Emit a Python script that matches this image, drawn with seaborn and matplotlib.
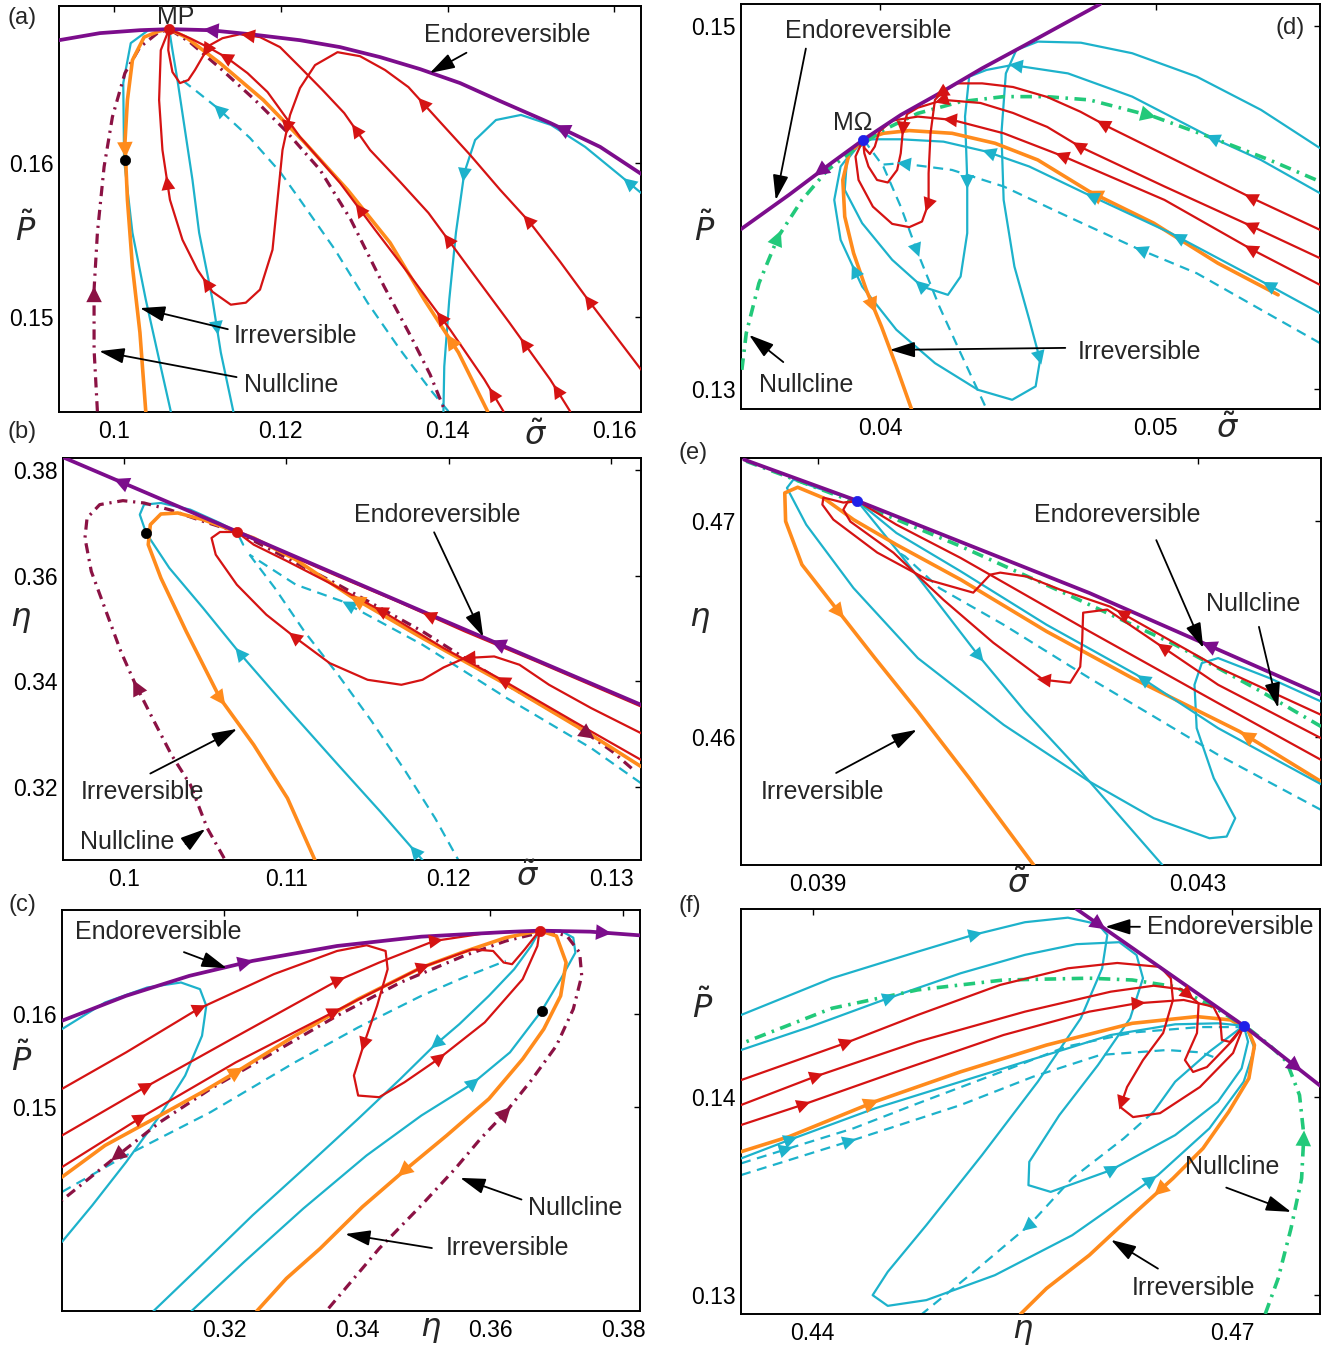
import numpy as np
import matplotlib
matplotlib.use("Agg")
import matplotlib.pyplot as plt
import seaborn as sns

PURPLE = "#7c0d8c"
RED = "#d51313"
CYAN = "#1db2cb"
ORANGE = "#ff8b1c"
MAROON = "#8b1244"
GREEN = "#22c97a"
BLUE = "#2020e8"

# ---------------- (a)  P vs sigma ----------------
a_endo_x = [0.1632, 0.1583, 0.1523, 0.1463, 0.1415, 0.1367, 0.1319, 0.1271, 0.1223, 0.1163, 0.1115, 0.1067, 0.1031, 0.0983, 0.0934]
a_endo_y = [0.15929, 0.16104, 0.16260, 0.16402, 0.16519, 0.16610, 0.16688, 0.16753, 0.16798, 0.16837, 0.16863, 0.16870, 0.16863, 0.16844, 0.16798]
a_null_x = [0.0980, 0.0976, 0.0976, 0.0980, 0.0988, 0.0998, 0.1013, 0.1031, 0.1052, 0.1066, 0.1091, 0.1127, 0.1169, 0.1205, 0.1247, 0.1284, 0.1324, 0.1356, 0.1379, 0.1397]
a_null_y = [0.14384, 0.14786, 0.15176, 0.15546, 0.15974, 0.16299, 0.16584, 0.16753, 0.16844, 0.16870, 0.16785, 0.16617, 0.16409, 0.16214, 0.15955, 0.15630, 0.15195, 0.14871, 0.14624, 0.14384]
a_irr_x = [0.1448, 0.1413, 0.1372, 0.1331, 0.1280, 0.1229, 0.1179, 0.1127, 0.1086, 0.1066, 0.1054, 0.1036, 0.1022, 0.1016, 0.1013, 0.1016, 0.1022, 0.1031, 0.1038]
a_irr_y = [0.14384, 0.14767, 0.15111, 0.15481, 0.15825, 0.16130, 0.16409, 0.16649, 0.16818, 0.16870, 0.16857, 0.16818, 0.16668, 0.16409, 0.16130, 0.15760, 0.15325, 0.14897, 0.14384]
a_cy1_x = [0.1066, 0.1041, 0.1020, 0.1011, 0.1012, 0.1022, 0.1038, 0.1054, 0.1068]
a_cy1_y = [0.16870, 0.16863, 0.16779, 0.16519, 0.16019, 0.15546, 0.15111, 0.14721, 0.14384]
a_cy2_x = [0.1066, 0.1070, 0.1076, 0.1085, 0.1094, 0.1102, 0.1118, 0.1128, 0.1143]
a_cy2_y = [0.16870, 0.16733, 0.16539, 0.16214, 0.15890, 0.15546, 0.15111, 0.14767, 0.14384]
a_cy3_x = [0.1401, 0.1379, 0.1343, 0.1304, 0.1265, 0.1223, 0.1199, 0.1163, 0.1124, 0.1100, 0.1077]
a_cy3_y = [0.14384, 0.14527, 0.14786, 0.15091, 0.15435, 0.15760, 0.15942, 0.16162, 0.16357, 0.16461, 0.16558]
a_cy4_x = [0.1632, 0.1606, 0.1565, 0.1524, 0.1488, 0.1458, 0.1433, 0.1420, 0.1410, 0.1402, 0.1396, 0.1395]
a_cy4_y = [0.15805, 0.15922, 0.16104, 0.16247, 0.16312, 0.16279, 0.16149, 0.15935, 0.15546, 0.15111, 0.14676, 0.14384]
a_red1_x = [0.1467, 0.1444, 0.1403, 0.1356, 0.1313, 0.1271, 0.1223, 0.1184, 0.1160, 0.1136, 0.1115, 0.1091, 0.1066]
a_red1_y = [0.14384, 0.14592, 0.14916, 0.15260, 0.15565, 0.15870, 0.16169, 0.16461, 0.16584, 0.16681, 0.16746, 0.16811, 0.16870]
a_red2_x = [0.1547, 0.1523, 0.1474, 0.1427, 0.1377, 0.1343, 0.1307, 0.1276, 0.1250, 0.1223, 0.1199, 0.1175, 0.1151, 0.1130, 0.1115, 0.1106, 0.1097, 0.1089, 0.1079, 0.1070, 0.1065, 0.1066]
a_red2_y = [0.14384, 0.14592, 0.14962, 0.15306, 0.15675, 0.15877, 0.16084, 0.16324, 0.16474, 0.16623, 0.16753, 0.16818, 0.16837, 0.16811, 0.16766, 0.16688, 0.16604, 0.16539, 0.16519, 0.16591, 0.16733, 0.16870]
a_red3_x = [0.1632, 0.1571, 0.1535, 0.1498, 0.1463, 0.1427, 0.1391, 0.1353, 0.1325, 0.1295, 0.1268, 0.1241, 0.1223, 0.1211, 0.1202, 0.1196, 0.1190, 0.1175, 0.1158, 0.1140, 0.1118, 0.1100, 0.1082, 0.1067, 0.1058, 0.1054, 0.1056, 0.1066]
a_red3_y = [0.14656, 0.15091, 0.15357, 0.15617, 0.15825, 0.16052, 0.16266, 0.16493, 0.16604, 0.16694, 0.16720, 0.16636, 0.16487, 0.16311, 0.16084, 0.15760, 0.15435, 0.15176, 0.15091, 0.15078, 0.15162, 0.15305, 0.15500, 0.15760, 0.16084, 0.16409, 0.16733, 0.16870]
a_pts_x = [0.1066, 0.1013]
a_pts_y = [0.16870, 0.16019]

# ---------------- (b)  eta vs sigma ----------------
b_endo_x = [0.13185, 0.11838, 0.10798, 0.09623]
b_endo_y = [0.33559, 0.35323, 0.36696, 0.38233]
b_null_x = [0.10616, 0.10512, 0.10408, 0.10291, 0.10174, 0.10070, 0.09979, 0.09888, 0.09797, 0.09758, 0.09771, 0.09849, 0.09992, 0.10122, 0.10278, 0.10486, 0.10694, 0.11318, 0.11838, 0.12358, 0.12748, 0.13008, 0.13138]
b_null_y = [0.30661, 0.31228, 0.32047, 0.32614, 0.33307, 0.33937, 0.34567, 0.35323, 0.36079, 0.36709, 0.37087, 0.37339, 0.37414, 0.37370, 0.37244, 0.37024, 0.36822, 0.35827, 0.34945, 0.33937, 0.33244, 0.32677, 0.32330]
b_irr_x = [0.13185, 0.12878, 0.12358, 0.11838, 0.11396, 0.11058, 0.10798, 0.10694, 0.10486, 0.10330, 0.10226, 0.10161, 0.10148, 0.10226, 0.10382, 0.10590, 0.10798, 0.11006, 0.11175]
b_irr_y = [0.32393, 0.32991, 0.33937, 0.34819, 0.35606, 0.36299, 0.36709, 0.36822, 0.37055, 0.37181, 0.37162, 0.36961, 0.36583, 0.35953, 0.34945, 0.33685, 0.32803, 0.31795, 0.30629]
b_cy1_x = [0.11838, 0.11578, 0.11318, 0.11006, 0.10720, 0.10486, 0.10278, 0.10135, 0.10096, 0.10122, 0.10226, 0.10408, 0.10590, 0.10694, 0.10733]
b_cy1_y = [0.30629, 0.31543, 0.32425, 0.33496, 0.34504, 0.35386, 0.36142, 0.36803, 0.37150, 0.37339, 0.37370, 0.37244, 0.36992, 0.36822, 0.36583]
b_cy2_x = [0.13185, 0.12878, 0.12358, 0.11838, 0.11344, 0.11058, 0.10772]
b_cy2_y = [0.32078, 0.32740, 0.33685, 0.34693, 0.35512, 0.35827, 0.36394]
b_cy3_x = [0.10772, 0.10928, 0.11110, 0.11318, 0.11526, 0.11734, 0.11916, 0.12059]
b_cy3_y = [0.36394, 0.35764, 0.34945, 0.34126, 0.33244, 0.32299, 0.31417, 0.30629]
b_red1_x = [0.13185, 0.12878, 0.12618, 0.12436, 0.12280, 0.12098, 0.11968, 0.11838, 0.11708, 0.11500, 0.11266, 0.11058, 0.10876, 0.10694, 0.10564, 0.10538, 0.10590, 0.10694]
b_red1_y = [0.33023, 0.33496, 0.33937, 0.34315, 0.34472, 0.34441, 0.34264, 0.34031, 0.33937, 0.34031, 0.34346, 0.34819, 0.35260, 0.35827, 0.36394, 0.36709, 0.36822, 0.36822]
b_red2_x = [0.13185, 0.12540, 0.12098, 0.11682, 0.11318, 0.11058, 0.10850, 0.10694]
b_red2_y = [0.33527, 0.34378, 0.34945, 0.35512, 0.35984, 0.36331, 0.36614, 0.36822]
b_red3_x = [0.13185, 0.12878, 0.12345, 0.11968, 0.11591, 0.11266, 0.11006, 0.10798, 0.10694]
b_red3_y = [0.32519, 0.33055, 0.34000, 0.34630, 0.35323, 0.35858, 0.36268, 0.36583, 0.36822]
b_pts_x = [0.10694, 0.10135]
b_pts_y = [0.36822, 0.36803]

# ---------------- (c)  P vs eta ----------------
c_endo_x = [0.29555, 0.30520, 0.31473, 0.32425, 0.33695, 0.34965, 0.36235, 0.36743, 0.37505, 0.38255]
c_endo_y = [0.15928, 0.16198, 0.16414, 0.16576, 0.16737, 0.16838, 0.16888, 0.16903, 0.16892, 0.16852]
c_null_x = [0.33568, 0.34330, 0.34965, 0.35473, 0.35854, 0.36235, 0.36616, 0.36997, 0.37251, 0.37378, 0.37347, 0.37156, 0.36870, 0.36235, 0.35600, 0.34648, 0.33695, 0.32743, 0.31790, 0.31029, 0.30330, 0.29555]
c_null_y = [0.12817, 0.13464, 0.13932, 0.14327, 0.14651, 0.14939, 0.15281, 0.15658, 0.16054, 0.16414, 0.16665, 0.16845, 0.16903, 0.16791, 0.16629, 0.16342, 0.15982, 0.15586, 0.15191, 0.14831, 0.14435, 0.13986]
c_irr_x = [0.29555, 0.30203, 0.31029, 0.31663, 0.32171, 0.33060, 0.34013, 0.34965, 0.35600, 0.36235, 0.36743, 0.36997, 0.37143, 0.37061, 0.36807, 0.36489, 0.35981, 0.35346, 0.34711, 0.34076, 0.33441, 0.32933, 0.32489]
c_irr_y = [0.14237, 0.14579, 0.14903, 0.15155, 0.15371, 0.15766, 0.16162, 0.16504, 0.16673, 0.16827, 0.16903, 0.16845, 0.16558, 0.16198, 0.15838, 0.15514, 0.15083, 0.14687, 0.14309, 0.13914, 0.13464, 0.13140, 0.12788]
c_cy1_x = [0.29555, 0.30203, 0.30838, 0.31346, 0.31632, 0.31727, 0.31663, 0.31409, 0.31029, 0.30520, 0.30012, 0.29555]
c_cy1_y = [0.15838, 0.16126, 0.16288, 0.16342, 0.16270, 0.16090, 0.15766, 0.15335, 0.14903, 0.14399, 0.13932, 0.13536]
c_cy2_x = [0.36743, 0.36616, 0.36362, 0.35981, 0.35537, 0.35156, 0.34648, 0.34013, 0.33251, 0.32425, 0.31600, 0.30933]
c_cy2_y = [0.16903, 0.16737, 0.16486, 0.16198, 0.15892, 0.15658, 0.15299, 0.14867, 0.14363, 0.13824, 0.13248, 0.12788]
c_cy3_x = [0.31505, 0.32298, 0.33187, 0.34140, 0.34965, 0.35727, 0.36298, 0.36775, 0.37061, 0.37283, 0.37251, 0.37061, 0.36743]
c_cy3_y = [0.12788, 0.13320, 0.13896, 0.14471, 0.14903, 0.15245, 0.15586, 0.16036, 0.16378, 0.16665, 0.16827, 0.16903, 0.16903]
c_cy4_x = [0.29555, 0.30520, 0.31790, 0.33060, 0.34013, 0.34965, 0.35600, 0.36235]
c_cy4_y = [0.14076, 0.14471, 0.14939, 0.15478, 0.15856, 0.16198, 0.16396, 0.16576]
c_red1_x = [0.29555, 0.30520, 0.31600, 0.32743, 0.33695, 0.34140, 0.34426, 0.34457, 0.34298, 0.34108, 0.33949, 0.34013, 0.34330, 0.34711, 0.35219, 0.35918, 0.36489, 0.36711, 0.36743]
c_red1_y = [0.15191, 0.15586, 0.16054, 0.16432, 0.16683, 0.16745, 0.16683, 0.16486, 0.16090, 0.15694, 0.15335, 0.15119, 0.15101, 0.15263, 0.15514, 0.15910, 0.16378, 0.16737, 0.16903]
c_red2_x = [0.29555, 0.30806, 0.32108, 0.33695, 0.34330, 0.35156, 0.35918, 0.36743]
c_red2_y = [0.14687, 0.15209, 0.15730, 0.16360, 0.16558, 0.16791, 0.16874, 0.16903]
c_red3_x = [0.29555, 0.30711, 0.32171, 0.33632, 0.34965, 0.35727, 0.36045, 0.36203, 0.36330, 0.36521, 0.36743]
c_red3_y = [0.14345, 0.14867, 0.15478, 0.16018, 0.16504, 0.16701, 0.16683, 0.16558, 0.16540, 0.16701, 0.16903]
c_pts_x = [0.36743, 0.36775]
c_pts_y = [0.16903, 0.16036]

# ---------------- (d)  P vs sigma ----------------
d_endo_x = [0.04798, 0.04681, 0.04526, 0.04370, 0.04215, 0.04075, 0.03938, 0.03826, 0.03670, 0.03496]
d_endo_y = [0.15121, 0.15024, 0.14895, 0.14767, 0.14629, 0.14510, 0.14372, 0.14248, 0.14070, 0.13881]
d_null_x = [0.03499, 0.03515, 0.03561, 0.03631, 0.03717, 0.03810, 0.03904, 0.04012, 0.04137, 0.04292, 0.04448, 0.04603, 0.04759, 0.04992, 0.05225, 0.05412, 0.05595]
d_null_y = [0.13106, 0.13308, 0.13583, 0.13840, 0.14042, 0.14207, 0.14317, 0.14427, 0.14519, 0.14583, 0.14611, 0.14611, 0.14593, 0.14501, 0.14372, 0.14262, 0.14143]
d_irr_x = [0.05443, 0.05225, 0.04992, 0.04759, 0.04572, 0.04417, 0.04261, 0.04106, 0.04012, 0.03938, 0.03888, 0.03865, 0.03872, 0.03904, 0.03950, 0.04005, 0.04059, 0.04114]
d_irr_y = [0.13519, 0.13693, 0.13914, 0.14088, 0.14262, 0.14354, 0.14409, 0.14424, 0.14409, 0.14372, 0.14299, 0.14152, 0.13950, 0.13749, 0.13547, 0.13345, 0.13125, 0.12890]
d_cy1_x = [0.05595, 0.05381, 0.05148, 0.04914, 0.04728, 0.04572, 0.04494, 0.04456, 0.04440, 0.04448, 0.04487, 0.04541, 0.04580, 0.04564, 0.04479, 0.04355, 0.04199, 0.04059, 0.03935, 0.03857, 0.03834, 0.03857, 0.03904, 0.03938]
d_cy1_y = [0.14327, 0.14538, 0.14721, 0.14850, 0.14908, 0.14914, 0.14868, 0.14739, 0.14409, 0.14042, 0.13675, 0.13382, 0.13161, 0.13015, 0.12941, 0.12996, 0.13143, 0.13327, 0.13565, 0.13822, 0.14042, 0.14226, 0.14317, 0.14372]
d_cy2_x = [0.05595, 0.05381, 0.05194, 0.04914, 0.04681, 0.04479, 0.04386, 0.04323, 0.04308, 0.04316, 0.04316, 0.04292, 0.04246, 0.04152, 0.04044, 0.03935, 0.03872, 0.03880, 0.03938]
d_cy2_y = [0.14079, 0.14262, 0.14391, 0.14611, 0.14739, 0.14785, 0.14758, 0.14721, 0.14501, 0.14152, 0.13859, 0.13620, 0.13519, 0.13565, 0.13712, 0.13914, 0.14097, 0.14262, 0.14372]
d_cy3_x = [0.05595, 0.05396, 0.05054, 0.04743, 0.04541, 0.04386, 0.04230, 0.04075, 0.03981, 0.03938]
d_cy3_y = [0.13418, 0.13583, 0.13859, 0.14079, 0.14226, 0.14308, 0.14363, 0.14376, 0.14376, 0.14372]
d_cy4_x = [0.03938, 0.03950, 0.04012, 0.04075, 0.04137, 0.04215, 0.04292, 0.04386]
d_cy4_y = [0.14372, 0.14354, 0.14226, 0.14005, 0.13749, 0.13455, 0.13198, 0.12890]
d_cy5_x = [0.05595, 0.05381, 0.05148, 0.04930, 0.04681, 0.04448, 0.04261, 0.04075, 0.03997]
d_cy5_y = [0.13253, 0.13437, 0.13638, 0.13776, 0.13950, 0.14116, 0.14207, 0.14244, 0.14235]
d_red1_x = [0.05595, 0.05350, 0.05070, 0.04837, 0.04726, 0.04606, 0.04482, 0.04370, 0.04277, 0.04222, 0.04199, 0.04183, 0.04176, 0.04176, 0.04152, 0.04106, 0.04044, 0.03974, 0.03922, 0.03911, 0.03938]
d_red1_y = [0.13877, 0.14051, 0.14262, 0.14437, 0.14528, 0.14609, 0.14664, 0.14684, 0.14684, 0.14630, 0.14593, 0.14409, 0.14189, 0.14024, 0.13923, 0.13892, 0.13910, 0.14005, 0.14152, 0.14281, 0.14372]
d_red2_x = [0.05595, 0.05350, 0.05031, 0.04726, 0.04606, 0.04482, 0.04364, 0.04230, 0.04137, 0.04098, 0.04084, 0.04075, 0.04062, 0.04028, 0.03989, 0.03958, 0.03943, 0.03938]
d_red2_y = [0.13721, 0.13895, 0.14116, 0.14334, 0.14444, 0.14521, 0.14576, 0.14593, 0.14550, 0.14515, 0.14446, 0.14299, 0.14207, 0.14138, 0.14152, 0.14226, 0.14299, 0.14372]
d_red3_x = [0.05595, 0.05350, 0.05031, 0.04666, 0.04448, 0.04261, 0.04137, 0.04044, 0.03997, 0.03981, 0.03963, 0.03944, 0.03938]
d_red3_y = [0.13574, 0.13767, 0.14042, 0.14281, 0.14409, 0.14483, 0.14501, 0.14479, 0.14418, 0.14336, 0.14295, 0.14327, 0.14372]
d_pts_x = [0.03938]
d_pts_y = [0.14372]

# ---------------- (e)  eta vs sigma ----------------
e_endo_x = [0.044297, 0.041857, 0.039407, 0.038218]
e_endo_y = [0.461940, 0.466668, 0.470961, 0.472868]
e_null_x = [0.038241, 0.039407, 0.040501, 0.041631, 0.042761, 0.043665, 0.044297]
e_null_y = [0.472790, 0.470853, 0.468838, 0.466590, 0.464265, 0.462095, 0.460468]
e_irr_x = [0.044297, 0.043439, 0.042309, 0.041405, 0.040501, 0.039823, 0.039371, 0.039054, 0.038783, 0.038647, 0.038656, 0.038828, 0.039212, 0.039597, 0.040049, 0.040591, 0.041269]
e_irr_y = [0.457910, 0.460235, 0.462715, 0.464885, 0.467288, 0.468915, 0.470078, 0.471085, 0.471581, 0.471318, 0.470000, 0.467985, 0.465815, 0.463645, 0.461165, 0.458065, 0.454035]
e_cy1_x = [0.044297, 0.043755, 0.043213, 0.043041, 0.042964, 0.042987, 0.043167, 0.043393, 0.043303, 0.043122, 0.042535, 0.041857, 0.040953, 0.040049, 0.039371, 0.038873, 0.038670, 0.038738, 0.039054, 0.039407]
e_cy1_y = [0.461630, 0.462715, 0.463645, 0.463413, 0.462405, 0.460390, 0.458065, 0.456205, 0.455353, 0.455275, 0.456205, 0.457910, 0.460545, 0.463645, 0.466900, 0.469845, 0.471550, 0.471938, 0.471450, 0.470961]
e_cy2_x = [0.039407, 0.039868, 0.040275, 0.040681, 0.041179, 0.041766, 0.042625]
e_cy2_y = [0.470961, 0.468450, 0.466125, 0.463800, 0.461165, 0.458375, 0.454035]
e_cy3_x = [0.044297, 0.043213, 0.042354, 0.041405, 0.040501, 0.039823, 0.039407]
e_cy3_y = [0.457786, 0.460390, 0.462870, 0.465195, 0.467675, 0.469458, 0.470961]
e_cy4_x = [0.044297, 0.043213, 0.041857, 0.040953, 0.040275, 0.039913, 0.039823]
e_cy4_y = [0.456593, 0.459150, 0.462715, 0.465195, 0.466900, 0.468373, 0.468605]
e_red1_x = [0.044297, 0.043213, 0.042076, 0.041549, 0.041202, 0.040918, 0.040812, 0.040633, 0.040149, 0.039622, 0.039159, 0.039043, 0.039054, 0.039264, 0.039407]
e_red1_y = [0.461010, 0.463211, 0.466034, 0.466824, 0.467429, 0.467615, 0.467522, 0.466685, 0.467289, 0.468545, 0.470079, 0.470777, 0.471102, 0.470870, 0.470961]
e_red2_x = [0.044297, 0.043213, 0.042044, 0.041791, 0.041781, 0.041760, 0.041654, 0.041370, 0.040844, 0.040317, 0.039791, 0.039338, 0.039264, 0.039306, 0.039407]
e_red2_y = [0.459925, 0.462405, 0.465900, 0.465755, 0.464500, 0.463244, 0.462500, 0.462639, 0.464360, 0.466359, 0.468545, 0.469986, 0.470544, 0.470870, 0.470961]
e_red3_x = [0.044297, 0.043213, 0.041857, 0.040501, 0.039823, 0.039407]
e_red3_y = [0.458918, 0.461553, 0.464885, 0.468295, 0.469845, 0.470961]
e_pts_x = [0.039407]
e_pts_y = [0.470961]

# ---------------- (f)  P vs eta ----------------
f_endo_x = [0.45886, 0.47082, 0.47628]
f_endo_y = [0.14949, 0.14359, 0.14056]
f_null_x = [0.47236, 0.47328, 0.47420, 0.47496, 0.47512, 0.47481, 0.47389, 0.47266, 0.47113, 0.46898, 0.46592, 0.46285, 0.45978, 0.45365, 0.44751, 0.44138, 0.43525]
f_null_y = [0.12902, 0.13081, 0.13334, 0.13587, 0.13806, 0.14008, 0.14177, 0.14261, 0.14346, 0.14440, 0.14556, 0.14590, 0.14599, 0.14590, 0.14540, 0.14447, 0.14278]
f_irr_x = [0.43488, 0.43831, 0.44445, 0.45058, 0.45672, 0.46285, 0.46745, 0.46990, 0.47113, 0.47159, 0.47119, 0.46975, 0.46791, 0.46576, 0.46285, 0.45978, 0.45672, 0.45487]
f_irr_y = [0.13722, 0.13798, 0.13975, 0.14126, 0.14261, 0.14371, 0.14405, 0.14388, 0.14337, 0.14261, 0.14093, 0.13924, 0.13739, 0.13587, 0.13401, 0.13199, 0.13031, 0.12902]
f_cy1_x = [0.43488, 0.44138, 0.44751, 0.45150, 0.45518, 0.45825, 0.46040, 0.46107, 0.46070, 0.45917, 0.45610, 0.45211, 0.44813, 0.44537, 0.44429, 0.44537, 0.44813, 0.45303, 0.45856, 0.46469, 0.46837, 0.47082, 0.47159, 0.47113, 0.47082]
f_cy1_y = [0.14413, 0.14599, 0.14733, 0.14818, 0.14882, 0.14905, 0.14872, 0.14818, 0.14649, 0.14396, 0.14076, 0.13705, 0.13351, 0.13115, 0.12997, 0.12943, 0.12972, 0.13098, 0.13300, 0.13604, 0.13840, 0.14076, 0.14244, 0.14329, 0.14359]
f_cy2_x = [0.43488, 0.43985, 0.44537, 0.45058, 0.45518, 0.45886, 0.46193, 0.46316, 0.46362, 0.46270, 0.46040, 0.45764, 0.45549, 0.45543, 0.45702, 0.46132, 0.46592, 0.46898, 0.47067, 0.47113, 0.47082]
f_cy2_y = [0.14236, 0.14354, 0.14497, 0.14624, 0.14717, 0.14771, 0.14781, 0.14716, 0.14599, 0.14396, 0.14160, 0.13907, 0.13671, 0.13553, 0.13519, 0.13629, 0.13806, 0.13975, 0.14143, 0.14278, 0.14359]
f_cy3_x = [0.43488, 0.43831, 0.44445, 0.45058, 0.45672, 0.46132, 0.46592, 0.46898, 0.47082]
f_cy3_y = [0.13688, 0.13781, 0.13941, 0.14076, 0.14211, 0.14312, 0.14366, 0.14371, 0.14359]
f_cy4_x = [0.43488, 0.43831, 0.44291, 0.44751, 0.45365, 0.45813, 0.46294, 0.46769, 0.47055]
f_cy4_y = [0.13663, 0.13739, 0.13840, 0.13966, 0.14130, 0.14253, 0.14325, 0.14352, 0.14352]
f_cy5_x = [0.43488, 0.44291, 0.45058, 0.45576, 0.46055, 0.46533, 0.46776, 0.46865]
f_cy5_y = [0.13604, 0.13781, 0.13958, 0.14101, 0.14211, 0.14236, 0.14224, 0.14201]
f_cy6_x = [0.47082, 0.46837, 0.46592, 0.46438, 0.46224, 0.45855, 0.45549, 0.45181, 0.44782]
f_cy6_y = [0.14359, 0.14228, 0.14076, 0.13924, 0.13789, 0.13587, 0.13351, 0.13132, 0.12902]
f_red1_x = [0.43488, 0.44230, 0.44751, 0.45340, 0.45825, 0.46178, 0.46485, 0.46561, 0.46576, 0.46506, 0.46362, 0.46248, 0.46199, 0.46291, 0.46484, 0.46769, 0.47006, 0.47082]
f_red1_y = [0.14084, 0.14270, 0.14413, 0.14565, 0.14649, 0.14676, 0.14656, 0.14598, 0.14489, 0.14322, 0.14185, 0.14049, 0.13948, 0.13897, 0.13917, 0.14049, 0.14221, 0.14359]
f_red2_x = [0.43488, 0.44015, 0.44751, 0.45518, 0.46132, 0.46438, 0.46638, 0.46760, 0.46748, 0.46662, 0.46720, 0.46819, 0.47006, 0.47082]
f_red2_y = [0.13958, 0.14101, 0.14278, 0.14430, 0.14531, 0.14561, 0.14543, 0.14472, 0.14322, 0.14185, 0.14125, 0.14150, 0.14287, 0.14359]
f_red3_x = [0.43488, 0.43923, 0.44598, 0.45365, 0.45978, 0.46316, 0.46653, 0.46865, 0.46914, 0.46926, 0.46984, 0.47082]
f_red3_y = [0.13857, 0.13958, 0.14126, 0.14312, 0.14430, 0.14472, 0.14489, 0.14455, 0.14388, 0.14287, 0.14277, 0.14359]
f_pts_x = [0.47082]
f_pts_y = [0.14359]

SOLID = "-"
DASH = (0, (4.5, 3))
DASHDOT = (0, (3.2, 1.8, 0.7, 1.8))

SIG = r"$\tilde{\sigma}$"
PT = r"$\tilde{P}$"
ETA = r"$\eta$"

TXT = 18      # annotation text
TICK = 16.5   # tick labels


def line(ax, xs, ys, color, lw, ls, heads, todo, z):
    sns.lineplot(x=xs, y=ys, ax=ax, color=color, linewidth=lw, linestyle=ls,
                 sort=False, estimator=None, legend=False, zorder=z)
    size = 28 if lw > 2 else 25
    todo.append((xs, ys, color, heads, size))


def draw_heads(ax, todo):
    # arrowheads sit on the drawn curve, placed by (fractional) point index
    inv = ax.transData.inverted()
    for xs, ys, color, heads, size in todo:
        pts = ax.transData.transform(np.column_stack([xs, ys]))
        for k in heads:
            i = min(int(k), len(pts) - 2)
            t = k - i
            p0, p1 = pts[i], pts[i + 1]
            d = (p1 - p0) / np.hypot(*(p1 - p0))
            p = p0 + t * (p1 - p0)
            ax.annotate("", xy=inv.transform(p + d * 9), xytext=inv.transform(p - d * 9),
                        arrowprops=dict(arrowstyle="-|>", color=color, lw=0,
                                        mutation_scale=size, shrinkA=0, shrinkB=0),
                        zorder=8)


def panel(rect, curves, lims, xt, xtl, yt, ytl, dots, texts, pointers, labels):
    ax = fig.add_axes(rect)
    todo = []
    for xs, ys, color, lw, ls, heads, z in curves:
        line(ax, xs, ys, color, lw, ls, heads, todo, z)
    for (px, py, col) in dots:
        sns.scatterplot(x=px, y=py, ax=ax, color=col, s=55, edgecolor=col, linewidth=0.5,
                        zorder=9, legend=False)
    ax.set_xlim(lims[0])
    ax.set_ylim(lims[1])
    ax.set_xticks(xt)
    ax.set_xticklabels(xtl)
    ax.set_yticks(yt)
    ax.set_yticklabels(ytl)
    ax.set_xlabel("")
    ax.set_ylabel("")
    ax.tick_params(direction="in", top=True, right=True, length=4, width=1,
                   labelsize=TICK, colors="black")
    ax.tick_params(axis="x", pad=6)
    ax.tick_params(axis="y", pad=4)
    for s in ax.spines.values():
        s.set_color("black")
        s.set_linewidth(1.4)
    draw_heads(ax, todo)
    for txt, fx, fy, fs in texts:
        ax.text(fx, fy, txt, transform=ax.transAxes, ha="center", va="center",
                fontsize=fs, zorder=10)
    for (tx, ty), (hx, hy) in pointers:
        ax.annotate("", xy=(hx, hy), xytext=(tx, ty), xycoords="axes fraction",
                    textcoords="axes fraction",
                    arrowprops=dict(arrowstyle="-|>,head_length=0.9,head_width=0.28",
                                    color="black", lw=1.3, mutation_scale=17,
                                    shrinkA=0, shrinkB=0), zorder=10)
    for txt, fx, fy in labels:
        ax.text(fx, fy, txt, transform=ax.transAxes, ha="center", va="center", fontsize=23)
    return ax


sns.set_theme(style="white")
plt.rcParams["font.family"] = ["Liberation Sans", "DejaVu Sans"]
plt.rcParams["mathtext.fontset"] = "dejavusans"

fig = plt.figure(figsize=(13.33, 13.46), dpi=100)

panel([0.0443, 0.6939, 0.4366, 0.3016],
      [(a_cy3_x, a_cy3_y, CYAN, 1.6, DASH, [7.9], 2),
       (a_cy1_x, a_cy1_y, CYAN, 1.6, SOLID, [], 3),
       (a_cy2_x, a_cy2_y, CYAN, 1.6, SOLID, [6.5], 3),
       (a_cy4_x, a_cy4_y, CYAN, 1.6, SOLID, [0.5, 7.0], 3),
       (a_null_x, a_null_y, MAROON, 2.3, DASHDOT, [1.9], 3),
       (a_irr_x, a_irr_y, ORANGE, 2.6, SOLID, [1.2, 14.1], 4),
       (a_red1_x, a_red1_y, RED, 1.6, SOLID, [0.5, 2.2, 4.4, 9.0], 5),
       (a_red2_x, a_red2_y, RED, 1.6, SOLID, [0.6, 1.6, 3.5, 6.5, 11.5, 14.3], 5),
       (a_red3_x, a_red3_y, RED, 1.6, SOLID, [1.0, 3.0, 6.5, 13.3, 20.3, 23.3], 5),
       (a_endo_x, a_endo_y, PURPLE, 2.7, SOLID, [1.74, 9.95], 6)],
      [(0.0934, 0.1632), (0.1438, 0.1702)],
      [0.10, 0.12, 0.14, 0.16], ["0.1", "0.12", "0.14", "0.16"],
      [0.15, 0.16], ["0.15", "0.16"],
      [([a_pts_x[0]], [a_pts_y[0]], RED), ([a_pts_x[1]], [a_pts_y[1]], "black")],
      [("Endoreversible", 0.770, 0.929, TXT), ("Irreversible", 0.407, 0.187, TXT),
       ("Nullcline", 0.399, 0.067, TXT), ("MP", 0.201, 0.973, TXT)],
      [((0.700, 0.885), (0.637, 0.835)), ((0.290, 0.204), (0.139, 0.256)),
       ((0.305, 0.086), (0.069, 0.150))],
      [(SIG, 0.818, -0.062), (PT, -0.058, 0.448)])

panel([0.0473, 0.3611, 0.4336, 0.2987],
      [(b_cy2_x, b_cy2_y, CYAN, 1.6, DASH, [3.9], 2),
       (b_cy3_x, b_cy3_y, CYAN, 1.6, DASH, [], 2),
       (b_cy1_x, b_cy1_y, CYAN, 1.6, SOLID, [0.15, 4.0], 3),
       (b_null_x, b_null_y, MAROON, 2.3, DASHDOT, [4.9, 20.4], 3),
       (b_irr_x, b_irr_y, ORANGE, 2.6, SOLID, [3.9, 15.0], 4),
       (b_red1_x, b_red1_y, RED, 1.6, SOLID, [4.8, 11.0], 5),
       (b_red2_x, b_red2_y, RED, 1.6, SOLID, [2.5], 5),
       (b_red3_x, b_red3_y, RED, 1.6, SOLID, [2.0, 4.0], 5),
       (b_endo_x, b_endo_y, PURPLE, 2.7, SOLID, [0.65, 2.69], 6)],
      [(0.09623, 0.13185), (0.30629, 0.38221)],
      [0.10, 0.11, 0.12, 0.13], ["0.1", "0.11", "0.12", "0.13"],
      [0.32, 0.34, 0.36, 0.38], ["0.32", "0.34", "0.36", "0.38"],
      [([b_pts_x[0]], [b_pts_y[0]], RED), ([b_pts_x[1]], [b_pts_y[1]], "black")],
      [("Endoreversible", 0.647, 0.858, TXT), ("Irreversible", 0.137, 0.169, TXT),
       ("Nullcline", 0.111, 0.045, TXT)],
      [((0.642, 0.815), (0.727, 0.555)), ((0.151, 0.215), (0.301, 0.326)),
       ((0.212, 0.040), (0.246, 0.077))],
      [(SIG, 0.804, -0.045), (ETA, -0.074, 0.597)])

panel([0.0465, 0.0260, 0.4336, 0.2979],
      [(c_cy4_x, c_cy4_y, CYAN, 1.6, DASH, [], 2),
       (c_cy1_x, c_cy1_y, CYAN, 1.6, SOLID, [], 3),
       (c_cy2_x, c_cy2_y, CYAN, 1.6, SOLID, [4.85], 3),
       (c_cy3_x, c_cy3_y, CYAN, 1.6, SOLID, [5.0], 3),
       (c_null_x, c_null_y, MAROON, 2.3, DASHDOT, [4.95, 19.9], 3),
       (c_irr_x, c_irr_y, ORANGE, 2.6, SOLID, [4.0, 18.0], 4),
       (c_red1_x, c_red1_y, RED, 1.6, SOLID, [2.0, 9.0, 14.0], 5),
       (c_red2_x, c_red2_y, RED, 1.6, SOLID, [1.0, 3.0, 5.0], 5),
       (c_red3_x, c_red3_y, RED, 1.6, SOLID, [1.0, 3.0, 4.0], 5),
       (c_endo_x, c_endo_y, PURPLE, 2.7, SOLID, [2.87, 8.25], 6)],
      [(0.29555, 0.38255), (0.12788, 0.17126)],
      [0.32, 0.34, 0.36, 0.38], ["0.32", "0.34", "0.36", "0.38"],
      [0.15, 0.16], ["0.15", "0.16"],
      [([c_pts_x[0]], [c_pts_y[0]], RED), ([c_pts_x[1]], [c_pts_y[1]], "black")],
      [("Endoreversible", 0.166, 0.945, TXT), ("Nullcline", 0.888, 0.257, TXT),
       ("Irreversible", 0.770, 0.157, TXT)],
      [((0.211, 0.895), (0.285, 0.855)), ((0.795, 0.278), (0.689, 0.332)),
       ((0.640, 0.157), (0.490, 0.192))],
      [(ETA, 0.637, -0.047), (PT, -0.069, 0.626)])

panel([0.5559, 0.6961, 0.4344, 0.3009],
      [(d_cy4_x, d_cy4_y, CYAN, 1.6, DASH, [3.9], 2),
       (d_cy5_x, d_cy5_y, CYAN, 1.6, DASH, [2.9, 6.9], 2),
       (d_cy1_x, d_cy1_y, CYAN, 1.6, SOLID, [11.9, 18.3], 3),
       (d_cy2_x, d_cy2_y, CYAN, 1.6, SOLID, [1.9, 4.9, 9.0, 13.0], 3),
       (d_irr_x, d_irr_y, ORANGE, 2.6, SOLID, [2.9, 14.4], 4),
       (d_cy3_x, d_cy3_y, CYAN, 1.6, SOLID, [0.9, 1.9, 2.9, 4.9], 4),
       (d_null_x, d_null_y, GREEN, 2.6, DASHDOT, [2.95, 12.9], 4),
       (d_red1_x, d_red1_y, RED, 1.6, SOLID, [1.0, 3.2, 8.9, 13.0], 5),
       (d_red2_x, d_red2_y, RED, 1.6, SOLID, [1.0, 3.0, 7.0, 10.0], 5),
       (d_red3_x, d_red3_y, RED, 1.6, SOLID, [1.0, 3.0, 5.0], 5),
       (d_endo_x, d_endo_y, PURPLE, 2.7, SOLID, [7.25], 6)],
      [(0.03496, 0.05595), (0.12890, 0.15121)],
      [0.04, 0.05], ["0.04", "0.05"],
      [0.13, 0.15], ["0.13", "0.15"],
      [(d_pts_x, d_pts_y, BLUE)],
      [("Endoreversible", 0.219, 0.933, TXT), ("(d)", 0.948, 0.941, 17),
       ("M\u03a9", 0.193, 0.706, TXT), ("Nullcline", 0.112, 0.059, TXT),
       ("Irreversible", 0.689, 0.141, TXT)],
      [((0.112, 0.890), (0.060, 0.516)), ((0.073, 0.116), (0.014, 0.183)),
       ((0.560, 0.151), (0.257, 0.146))],
      [(SIG, 0.841, -0.052), (PT, -0.062, 0.442)])

panel([0.5559, 0.3574, 0.4351, 0.3024],
      [(e_cy4_x, e_cy4_y, CYAN, 1.6, DASH, [], 2),
       (e_cy1_x, e_cy1_y, CYAN, 1.6, SOLID, [], 3),
       (e_cy2_x, e_cy2_y, CYAN, 1.6, SOLID, [3.0], 3),
       (e_irr_x, e_irr_y, ORANGE, 2.6, SOLID, [0.9, 12.0], 4),
       (e_cy3_x, e_cy3_y, CYAN, 1.6, SOLID, [1.9], 4),
       (e_null_x, e_null_y, GREEN, 2.6, DASHDOT, [], 4),
       (e_red1_x, e_red1_y, RED, 1.6, SOLID, [1.87], 5),
       (e_red2_x, e_red2_y, RED, 1.6, SOLID, [1.48, 6.9], 5),
       (e_red3_x, e_red3_y, RED, 1.6, SOLID, [], 5),
       (e_endo_x, e_endo_y, PURPLE, 2.7, SOLID, [0.48], 6)],
      [(0.038186, 0.044297), (0.454035, 0.472945)],
      [0.039, 0.043], ["0.039", "0.043"],
      [0.46, 0.47], ["0.46", "0.47"],
      [(e_pts_x, e_pts_y, BLUE)],
      [("Endoreversible", 0.648, 0.860, TXT), ("Nullcline", 0.883, 0.641, TXT),
       ("Irreversible", 0.140, 0.179, TXT)],
      [((0.716, 0.798), (0.797, 0.533)), ((0.893, 0.585), (0.926, 0.386)),
       ((0.164, 0.226), (0.303, 0.332))],
      [(SIG, 0.478, -0.049), (ETA, -0.071, 0.602)])

panel([0.5559, 0.0238, 0.4344, 0.3009],
      [(f_cy4_x, f_cy4_y, CYAN, 1.6, DASH, [0.9], 2),
       (f_cy5_x, f_cy5_y, CYAN, 1.6, DASH, [0.95], 2),
       (f_cy6_x[:4], f_cy6_y[:4], CYAN, 1.6, SOLID, [], 3),
       (f_cy6_x[3:], f_cy6_y[3:], CYAN, 1.6, DASH, [3.0], 2),
       (f_cy1_x, f_cy1_y, CYAN, 1.6, SOLID, [3.0, 18.9], 3),
       (f_cy2_x, f_cy2_y, CYAN, 1.6, SOLID, [2.0, 15.0], 3),
       (f_irr_x, f_irr_y, ORANGE, 2.6, SOLID, [1.95, 13.3], 4),
       (f_cy3_x, f_cy3_y, CYAN, 1.6, SOLID, [1.0], 4),
       (f_null_x, f_null_y, GREEN, 2.6, DASHDOT, [3.9], 4),
       (f_red1_x, f_red1_y, RED, 1.6, SOLID, [1.0, 11.7], 5),
       (f_red2_x, f_red2_y, RED, 1.6, SOLID, [1.0, 6.3], 5),
       (f_red3_x, f_red3_y, RED, 1.6, SOLID, [1.0, 5.0], 5),
       (f_endo_x, f_endo_y, PURPLE, 2.7, SOLID, [0.13, 1.67], 6)],
      [(0.43488, 0.47628), (0.12902, 0.14949)],
      [0.44, 0.47], ["0.44", "0.47"],
      [0.13, 0.14], ["0.13", "0.14"],
      [(f_pts_x, f_pts_y, BLUE)],
      [("Endoreversible", 0.845, 0.956, TXT), ("Nullcline", 0.848, 0.363, TXT),
       ("Irreversible", 0.781, 0.064, TXT)],
      [((0.689, 0.956), (0.629, 0.956)), ((0.838, 0.312), (0.950, 0.252)),
       ((0.720, 0.112), (0.639, 0.183))],
      [(ETA, 0.487, -0.044), (PT, -0.067, 0.756)])

for lab, fx, fy in [("(a)", 0.0165, 0.9866), ("(b)", 0.0165, 0.679), ("(c)", 0.0165, 0.3276),
                    ("(e)", 0.520, 0.6634), ("(f)", 0.5176, 0.3269)]:
    fig.text(fx, fy, lab, ha="center", va="center", fontsize=17)

fig.savefig("out.png", dpi=100)
